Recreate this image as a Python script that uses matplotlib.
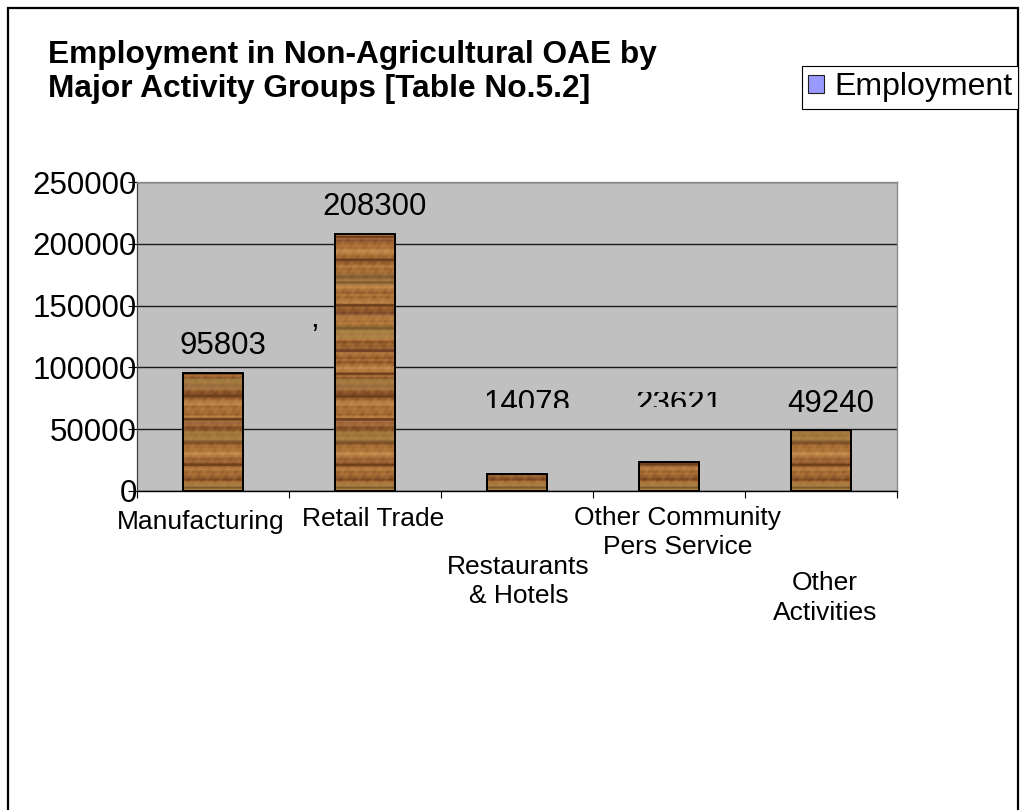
import matplotlib
matplotlib.use("Agg")
import matplotlib.pyplot as plt
import numpy as np
from matplotlib.patches import Rectangle, Patch

plt.rcParams['font.family'] = ['Liberation Sans', 'DejaVu Sans']

# data
categories = ['Manufacturing', 'Retail Trade', 'Restaurants\n& Hotels',
              'Other Community\nPers Service', 'Other\nActivities']
employment = [95803, 208300, 14078, 23621, 49240]
y_ticks = [0, 50000, 100000, 150000, 200000, 250000]
title = 'Employment in Non-Agricultural OAE by\nMajor Activity Groups [Table No.5.2]'

# layout of the staggered category labels (offsets in points from slot centre / axis)
cat_dx = [-9, 6, 1, 6, 3]
cat_dy = [-22, -20, -65, -30, -77]
label_floor = 49240  # small bars get their labels lifted to this level


def wood_texture(h=700, w=60):
    """Deterministic striped wood-like texture (RGB)"""
    yy = np.linspace(0, 312, h)[:, None]
    xx = np.linspace(0, 60, w)[None, :]
    b = (0.52 + 0.15 * np.sin(2 * np.pi * yy / 17 + 0.3)
         + 0.09 * np.sin(2 * np.pi * yy / 7.3 + 1.1)
         + 0.09 * np.sin(2 * np.pi * yy / 41 + 2.0)
         + 0.06 * np.sin(2 * np.pi * yy / 4.1 + 0.5)
         + 0.05 * np.sin(2 * np.pi * (xx / 13 + yy / 29))
         + 0.04 * np.sin(2 * np.pi * (xx / 7 - yy / 11)))
    dark_line = np.sin(2 * np.pi * yy / 23 + 0.7) > 0.94
    b = np.where(dark_line, 0.1, b)
    b = np.clip(b, 0, 1)
    dark = np.array([0.38, 0.20, 0.09])
    base = np.array([0.66, 0.43, 0.21])
    light = np.array([0.80, 0.59, 0.33])
    b3 = b[..., None]
    img = np.where(b3 < 0.5, dark + (base - dark) * (b3 / 0.5),
                   base + (light - base) * ((b3 - 0.5) / 0.5))
    olive = (np.sin(2 * np.pi * yy / 53 + 1.4) > 0.75)[..., None]
    img = np.where(olive, img * 0.6 + np.array([0.60, 0.52, 0.28]) * 0.4, img)
    tint = (np.sin(2 * np.pi * yy / 37 + 2.6) > 0.9)[..., None]
    img = np.where(tint, img * 0.8 + np.array([0.48, 0.28, 0.26]) * 0.2, img)
    return np.clip(img, 0, 1)


fig = plt.figure(figsize=(10.24, 8.10), dpi=100)
ax = fig.add_axes([137 / 1024, 1 - 491 / 810, 760 / 1024, 309 / 810])
ax.set_facecolor('#c0c0c0')

x = np.arange(len(categories))
bars = ax.bar(x, employment, width=0.4, facecolor='none', edgecolor='black',
              linewidth=1.4, zorder=3)

tex = wood_texture()
for bar in bars:
    x0 = bar.get_x()
    im = ax.imshow(tex, extent=(x0, x0 + bar.get_width(), 0, 250000),
                   origin='lower', aspect='auto', zorder=2.5,
                   interpolation='bilinear')
    im.set_clip_path(bar)

ax.set_xlim(-0.5, len(categories) - 0.5)
ax.set_ylim(0, 250000)
ax.set_axisbelow(True)
ax.yaxis.grid(True, color='#1a1a1a', linewidth=1.0)
ax.set_yticks(y_ticks)
ax.set_yticklabels([str(t) for t in y_ticks])
ax.tick_params(axis='y', direction='out', length=6.5, width=0.8, pad=-6.5,
               labelsize=22.5, colors='black')
ax.set_xticks(np.arange(len(categories) + 1) - 0.5)
ax.set_xticklabels([])
ax.tick_params(axis='x', direction='out', length=5, width=0.8)

for side in ['top', 'right']:
    ax.spines[side].set_color('#8a8a8a')
    ax.spines[side].set_linewidth(1.0)
ax.spines['left'].set_color('#404040')
ax.spines['left'].set_linewidth(0.9)
ax.spines['bottom'].set_color('black')
ax.spines['bottom'].set_linewidth(1.0)

# category labels
for i, name in enumerate(categories):
    ax.annotate(name, xy=(i, 0), xytext=(cat_dx[i], cat_dy[i]),
                textcoords='offset points', ha='center', va='center',
                fontsize=19, linespacing=1.28, annotation_clip=False)

# value labels
clips = {2: (67000, 100000), 3: (67800, 12300)}
for i, v in enumerate(employment):
    t = ax.annotate(str(v), xy=(i, max(v, label_floor)), xytext=(7.2, 19),
                    textcoords='offset points', ha='center', va='center',
                    fontsize=22.5, zorder=4)
    if i in clips:
        lo, h = clips[i]
        rect = Rectangle((i - 0.5, lo), 1, h, transform=ax.transData)
        t.set_clip_on(True)
        t.set_clip_path(rect)

# stray comma in the original
ax.text(315 / 1024, 1 - 319 / 810, ',', transform=fig.transFigure,
        fontsize=22.5, ha='center', va='center')

# title
fig.text(48 / 1024, 1 - 72 / 810, title, fontsize=22.8, fontweight='bold',
         ha='left', va='center', linespacing=1.18)

# legend
leg = fig.legend(handles=[Patch(facecolor='#9999ff', edgecolor='#202020',
                                linewidth=0.8, label='Employment')],
                 loc='upper left', bbox_to_anchor=(802 / 1024, 1 - 66 / 810),
                 fontsize=23, frameon=True, fancybox=False, framealpha=1,
                 edgecolor='black', borderpad=0.2, borderaxespad=0,
                 handlelength=0.5, handleheight=0.5, handletextpad=0.3)
leg.get_frame().set_linewidth(0.8)

# outer border
fig.add_artist(Rectangle((8 / 1024, -0.05), 1010 / 1024, 1 - 8 / 810 + 0.05,
                         transform=fig.transFigure, fill=False,
                         edgecolor='black', linewidth=1.6))

fig.savefig('out.png', dpi=100)
